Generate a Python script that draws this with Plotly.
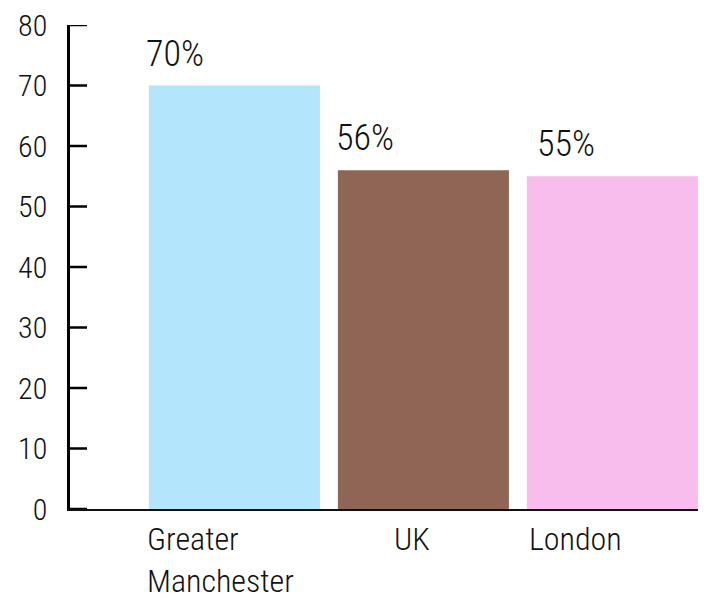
import plotly.graph_objects as go

categories = ["Greater<br>Manchester", "UK", "London"]
values = [70, 56, 55]
value_labels = ["70%", "56%", "55%"]
y_ticks = [0, 10, 20, 30, 40, 50, 60, 70, 80]

colors = ["#B3E5FC", "#8F6655", "#F9BDED"]
FONT = "Roboto Condensed, DejaVu Sans, sans-serif"

xs = list(range(len(categories)))
label_off = [-0.481, -0.474, -0.410]
cat_off = [-0.474, -0.168, -0.452]

fig = go.Figure()
fig.add_trace(go.Bar(x=xs, y=values, marker=dict(color=colors, line=dict(width=0)),
                     width=0.905, hoverinfo="skip"))

for x, v, t, o in zip(xs, values, value_labels, label_off):
    fig.add_annotation(x=x + o, y=v, xref="x", yref="y", text=t, showarrow=False,
                       xanchor="left", yanchor="bottom", yshift=9,
                       font=dict(family=FONT, size=36, color="#111", weight=300))

for x, c, o in zip(xs, categories, cat_off):
    fig.add_annotation(x=x + o, y=0, xref="x", yref="y", text=c, showarrow=False,
                       xanchor="left", yanchor="top", yshift=-9, align="left",
                       font=dict(family=FONT, size=32, color="#111", weight=300))

# tick marks drawn to the right of the y axis line
for v in y_ticks:
    fig.add_shape(type="line", xref="paper", yref="y", xsizemode="pixel",
                  xanchor=0, x0=-1, x1=17, y0=v, y1=v,
                  line=dict(color="#000", width=2.5), layer="above")

fig.update_layout(
    width=709, height=605,
    margin=dict(l=62, r=19, t=17, b=104),
    paper_bgcolor="white", plot_bgcolor="white",
    showlegend=False,
    xaxis=dict(range=[-0.870, 2.453], showticklabels=False, ticks="",
               showgrid=False, zeroline=False, showline=True, automargin=False,
               linecolor="#111", linewidth=2, fixedrange=True, layer="below traces"),
    yaxis=dict(range=[0, 80], tickvals=y_ticks, ticks="", showline=True,
               linecolor="#000", linewidth=2.5, showgrid=False, zeroline=False,
               automargin=False, ticklabeloverflow="allow", ticklabelstandoff=14,
               tickfont=dict(family=FONT, size=30, color="#111", weight=300),
               fixedrange=True),
)

fig.write_html("out.html")
